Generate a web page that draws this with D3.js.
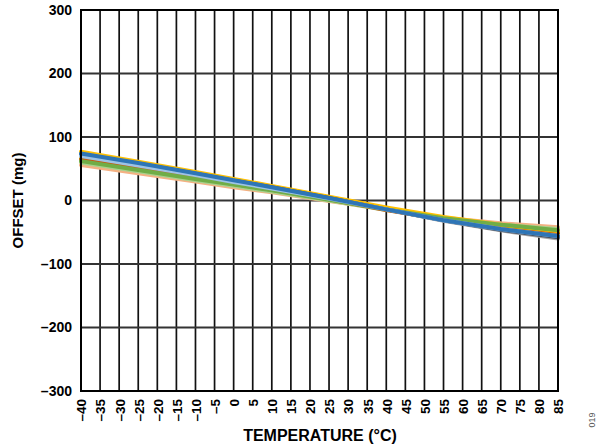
<!DOCTYPE html>
<html><head><meta charset="utf-8">
<script src="https://cdn.jsdelivr.net/npm/d3@7"></script>
<style>body{margin:0;background:#fff}svg{display:block}text{font-family:"Liberation Sans",Arial,sans-serif}</style>
</head><body>
<svg id="c" width="600" height="448"></svg>
<script>
const temps = [-40, -25, -10, 0, 10, 25, 40, 55, 70, 85];
const xTicks = d3.range(-40, 90, 5);
const yTicks = [-300, -200, -100, 0, 100, 200, 300];
const seriesColors = ["#F4B183", "#A9D18E", "#A5A5A5", "#BF9000", "#C55A11", "#FFC000", "#70AD47", "#44546A", "#9DC3E6", "#2E75B6"];
const s1  = [56, 43, 30, 21, 13, -1, -14, -27, -36, -42];
const s2  = [60, 46, 32, 23, 14, 0, -15, -28, -38, -45];
const s3  = [71, 56, 40, 30, 20, 4, -14, -32, -47, -60];
const s4  = [66, 52, 37, 27, 18, 3, -14, -29, -40, -50];
const s5  = [64, 50, 36, 26, 17, 2, -15, -30, -42, -52];
const s6  = [77, 61, 45, 34, 23, 6, -11, -26, -38, -48];
const s7  = [62, 48, 34, 25, 16, 1, -14, -28, -38, -47];
const s8  = [73, 58, 42, 31, 21, 4, -14, -31, -46, -58];
const s9  = [70, 55, 40, 29, 19, 3, -14, -31, -45, -56];
const s10 = [74, 59, 43, 32, 21, 4, -14, -31, -45, -56];
const series = [s1, s2, s3, s4, s5, s6, s7, s8, s9, s10];

const svg = d3.select("#c");
const m = {l: 81, r: 558, t: 10, b: 391};
const x = d3.scaleLinear().domain([-40, 85]).range([m.l, m.r]);
const y = d3.scaleLinear().domain([-300, 300]).range([m.b, m.t]);

// grid
svg.append("g").selectAll("line").data(xTicks).join("line")
  .attr("x1", d => x(d)).attr("x2", d => x(d)).attr("y1", m.t).attr("y2", m.b)
  .attr("stroke", "#111").attr("stroke-width", 1.7);
svg.append("g").selectAll("line").data(yTicks).join("line")
  .attr("x1", m.l).attr("x2", m.r).attr("y1", d => y(d)).attr("y2", d => y(d))
  .attr("stroke", "#333").attr("stroke-width", 1.9);

// series
const line = d3.line().x((d, i) => x(temps[i])).y(d => y(d));
svg.append("g").selectAll("path").data(series).join("path")
  .attr("d", d => line(d)).attr("fill", "none")
  .attr("stroke", (d, i) => seriesColors[i]).attr("stroke-width", 4)
  .attr("stroke-linejoin", "round").attr("stroke-linecap", "round");

// frame
svg.append("rect").attr("x", m.l).attr("y", m.t).attr("width", m.r - m.l).attr("height", m.b - m.t)
  .attr("fill", "none").attr("stroke", "#000").attr("stroke-width", 2);

const fmt = d => d < 0 ? "\u2013" + Math.abs(d) : String(d);

// y axis
const yAxis = svg.append("g").attr("transform", `translate(${m.l},0)`)
  .call(d3.axisLeft(y).tickValues(yTicks).tickSize(0).tickPadding(9).tickFormat(fmt));
yAxis.select(".domain").remove();
yAxis.selectAll("text").attr("font-size", 14).attr("font-weight", "bold").attr("fill", "#000")
  .style("font-family", "'Liberation Sans', Arial, sans-serif");

// x axis
const xAxis = svg.append("g").attr("transform", `translate(0,${m.b})`)
  .call(d3.axisBottom(x).tickValues(xTicks).tickSize(0).tickFormat(fmt));
xAxis.select(".domain").remove();
xAxis.selectAll("text")
  .attr("transform", "rotate(-90)")
  .attr("x", -8).attr("y", 0).attr("dy", "0.36em")
  .attr("text-anchor", "end")
  .attr("font-size", 13.5).attr("font-weight", "bold").attr("fill", "#000")
  .style("font-family", "'Liberation Sans', Arial, sans-serif");

// titles
svg.append("text").attr("x", 320).attr("y", 441).attr("text-anchor", "middle")
  .attr("font-size", 16).attr("font-weight", "bold").text("TEMPERATURE (\u00B0C)");
svg.append("text").attr("transform", `translate(23,${(m.t + m.b) / 2}) rotate(-90)`)
  .attr("text-anchor", "middle").attr("font-size", 15).attr("font-weight", "bold").text("OFFSET (mg)");
svg.append("text").attr("transform", "translate(595,420) rotate(-90)")
  .attr("text-anchor", "middle").attr("font-size", 9).attr("fill", "#555").text("019");
</script>
</body></html>
